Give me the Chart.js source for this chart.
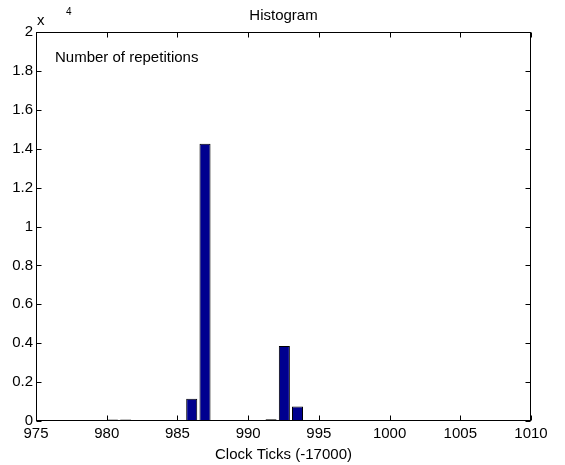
<!DOCTYPE html>
<html>
<head>
<meta charset="utf-8">
<script src="https://cdn.jsdelivr.net/npm/chart.js@4/dist/chart.umd.min.js"></script>
<style>
  html, body { margin: 0; padding: 0; background: #fff; }
  canvas { display: block; }
</style>
</head>
<body>
<canvas id="hist" width="565" height="465"></canvas>
<script>
// histogram bins (clock ticks minus 17000) and counts per bin
const binCenters = [980.40, 981.34, 986.01, 986.95, 991.62, 992.56, 993.49];
const binCounts = [80, 80, 1150, 14250, 90, 3850, 750];
const countScale = 1e4;
const xTicks = [975, 980, 985, 990, 995, 1000, 1005, 1010];
const yTicks = [0, 0.2, 0.4, 0.6, 0.8, 1, 1.2, 1.4, 1.6, 1.8, 2];

const FONT = "'Liberation Sans', Arial, Helvetica, sans-serif";
const FSIZE = 15;

// matlab-ish box with inward tick marks, title, "x 10^4" and inner label
const matlabBox = {
  id: 'matlabBox',
  afterDraw(chart) {
    const { ctx, chartArea: a, scales } = chart;
    const L = Math.round(a.left) + 0.5, R = Math.round(a.right) - 0.5;
    const T = Math.round(a.top) + 0.5, B = Math.round(a.bottom) - 0.5;
    ctx.save();
    ctx.strokeStyle = '#000';
    ctx.lineWidth = 1;
    ctx.strokeRect(L, T, R - L, B - T);
    ctx.beginPath();
    for (const v of xTicks) {
      const x = Math.round(scales.x.getPixelForValue(v)) + 0.5;
      ctx.moveTo(x, B); ctx.lineTo(x, B - 5);
      ctx.moveTo(x, T); ctx.lineTo(x, T + 5);
    }
    for (const v of yTicks) {
      const y = Math.round(scales.y.getPixelForValue(v)) + 0.5;
      ctx.moveTo(L, y); ctx.lineTo(L + 5, y);
      ctx.moveTo(R, y); ctx.lineTo(R - 5, y);
    }
    ctx.stroke();

    ctx.fillStyle = '#000';
    ctx.textBaseline = 'alphabetic';
    ctx.font = FSIZE + 'px ' + FONT;
    ctx.textAlign = 'center';
    ctx.fillText('Histogram', (a.left + a.right) / 2, 20);
    ctx.textAlign = 'left';
    ctx.fillText('x', a.left + 1, 25);
    ctx.fillText('Number of repetitions', a.left + 19, 62);
    ctx.font = '10px ' + FONT;
    ctx.fillText('4', a.left + 30, 15);
    ctx.restore();
  }
};

new Chart(document.getElementById('hist'), {
  type: 'bar',
  data: {
    datasets: [{
      data: binCenters.map((c, i) => ({ x: c, y: binCounts[i] / countScale })),
      backgroundColor: '#00008f',
      borderColor: '#000',
      borderWidth: 1,
      borderSkipped: false,
      barPercentage: 0.84,
      categoryPercentage: 1
    }]
  },
  options: {
    responsive: false,
    animation: false,
    layout: { padding: { left: 0, right: 34, top: 32, bottom: 0 } },
    plugins: {
      legend: { display: false },
      tooltip: { enabled: false },
      title: { display: false }
    },
    scales: {
      x: {
        type: 'linear',
        min: 975,
        max: 1010,
        offset: false,
        grid: { display: false, drawTicks: false, offset: false },
        border: { display: false },
        afterBuildTicks: s => { s.ticks = xTicks.map(v => ({ value: v })); },
        ticks: {
          color: '#000',
          padding: 4,
          maxRotation: 0,
          autoSkip: false,
          font: { family: FONT, size: FSIZE },
          callback: v => String(v)
        },
        title: {
          display: true,
          text: 'Clock Ticks (-17000)',
          color: '#000',
          font: { family: FONT, size: FSIZE },
          padding: { top: 0, bottom: 1 }
        },
        afterFit: s => { s.height = 44; }
      },
      y: {
        min: 0,
        max: 2,
        grid: { display: false, drawTicks: false },
        border: { display: false },
        afterBuildTicks: s => { s.ticks = yTicks.map(v => ({ value: v })); },
        ticks: {
          color: '#000',
          padding: 3,
          autoSkip: false,
          font: { family: FONT, size: FSIZE },
          callback: v => String(Math.round(v * 10) / 10)
        },
        afterFit: s => { s.width = 36; }
      }
    }
  },
  plugins: [matlabBox]
});
</script>
</body>
</html>
